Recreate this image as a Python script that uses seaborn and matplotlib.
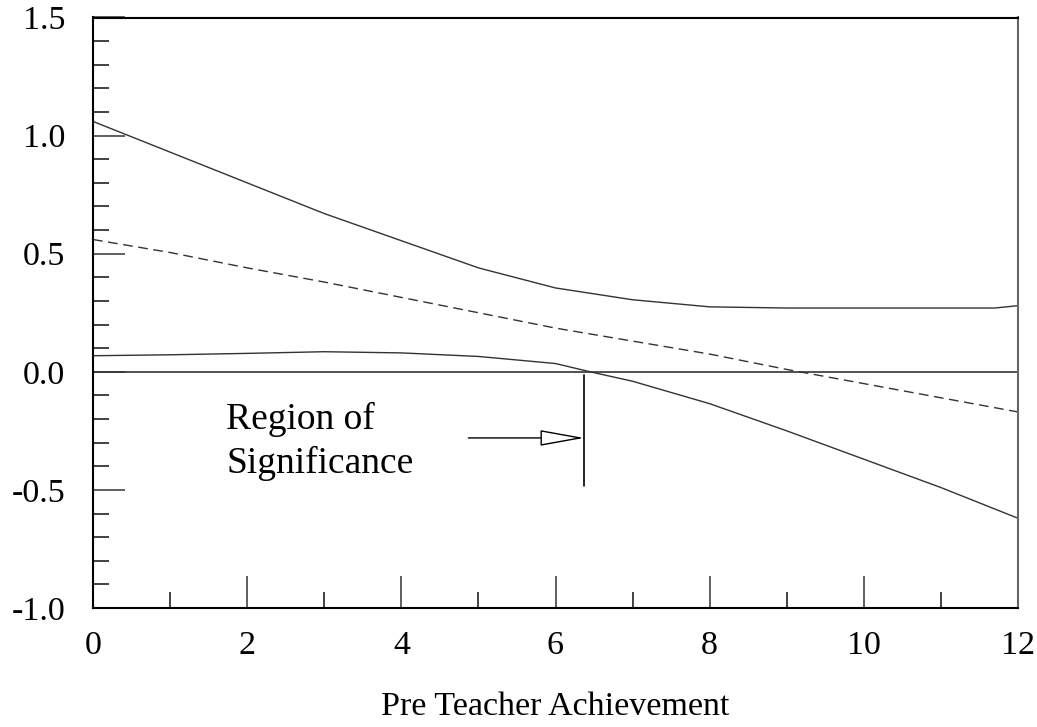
import matplotlib
matplotlib.use("Agg")
import matplotlib.pyplot as plt
import seaborn as sns
import pandas as pd
import numpy as np

# ---- data ----
upper_x = [0, 1, 2, 3, 4, 5, 6, 7, 8, 9, 10, 11, 11.7, 12]
upper_y = [1.06, 0.93, 0.80, 0.67, 0.555, 0.44, 0.355, 0.305, 0.275, 0.27, 0.27, 0.27, 0.27, 0.28]

mid_x = [0, 1, 2, 3, 4, 5, 6, 7, 8, 9, 10, 11, 12]
mid_y = [0.56, 0.505, 0.44, 0.38, 0.315, 0.25, 0.185, 0.13, 0.075, 0.01, -0.05, -0.11, -0.17]

lower_x = [0, 1, 2, 3, 4, 5, 6, 6.45, 7, 8, 9, 10, 11, 12]
lower_y = [0.068, 0.072, 0.078, 0.085, 0.08, 0.065, 0.035, 0.0, -0.04, -0.135, -0.25, -0.37, -0.49, -0.62]

x_ticks = [0, 2, 4, 6, 8, 10, 12]
y_ticks = [-1.0, -0.5, 0.0, 0.5, 1.0, 1.5]
x_label = "Pre Teacher Achievement"
note_lines = ["Region of", "Significance"]
region_x = 6.37

sns.set_style("white")
plt.rcParams['font.family'] = ['Liberation Serif', 'DejaVu Serif']
plt.rcParams['text.color'] = 'black'
plt.rcParams['axes.labelcolor'] = 'black'
plt.rcParams['xtick.color'] = 'black'
plt.rcParams['ytick.color'] = 'black'

fig = plt.figure(figsize=(10.37, 7.27), dpi=100)
ax = fig.add_axes([93/1037, (727-608)/727, (1018-93)/1037, (608-17.5)/727])

df_u = pd.DataFrame({"x": upper_x, "y": upper_y})
df_m = pd.DataFrame({"x": mid_x, "y": mid_y})
df_l = pd.DataFrame({"x": lower_x, "y": lower_y})

lc = "#333333"
sns.lineplot(data=df_u, x="x", y="y", ax=ax, color=lc, lw=1.0, estimator=None, sort=False)
sns.lineplot(data=df_m, x="x", y="y", ax=ax, color=lc, lw=1.0, estimator=None, sort=False,
             linestyle=(0, (7, 4)))
sns.lineplot(data=df_l, x="x", y="y", ax=ax, color=lc, lw=1.0, estimator=None, sort=False)
ax.axhline(0, color=lc, lw=1.2)

ax.set_xlim(0, 12)
ax.set_ylim(-1.0, 1.5)
ax.set_xticks(x_ticks)
ax.set_xticks(np.arange(0, 13, 1), minor=True)
ax.set_yticks(y_ticks)
ax.set_yticks(np.arange(-1.0, 1.51, 0.1), minor=True)
ax.set_xticklabels([str(t) for t in x_ticks])
ax.set_yticklabels([f"{t:.1f}" for t in y_ticks])

ax.tick_params(axis='both', which='major', direction='in', length=23, width=1.2,
               color='#444444', labelcolor='black', labelsize=24.5)
ax.tick_params(axis='both', which='minor', direction='in', length=11.5, width=1.2,
               color='#222222')
ax.tick_params(axis='x', which='both', bottom=True, top=False, pad=16)
ax.tick_params(axis='y', which='both', left=True, right=False, pad=20)

for s in ax.spines.values():
    s.set_color('black')
    s.set_linewidth(1.5)
ax.spines['right'].set_color('#666666')

ax.set_xlabel(x_label, fontsize=24.5, labelpad=22, color='black')
ax.set_ylabel("")

# Region of significance annotation
ax.plot([region_x, region_x], [-0.015, -0.485], color='black', lw=1.2)
ax.annotate("", xy=(region_x, -0.28), xytext=(4.87, -0.28),
            arrowprops=dict(arrowstyle='-|>,head_length=2.0,head_width=0.36',
                            mutation_scale=14, fc='white', ec='black', lw=1.0,
                            shrinkA=0, shrinkB=0))
ax.text(1.73, -0.242, note_lines[0], fontsize=27, va='baseline', ha='left', color='black')
ax.text(1.73, -0.428, note_lines[1], fontsize=27, va='baseline', ha='left', color='black')

fig.savefig("out.png", dpi=100)
